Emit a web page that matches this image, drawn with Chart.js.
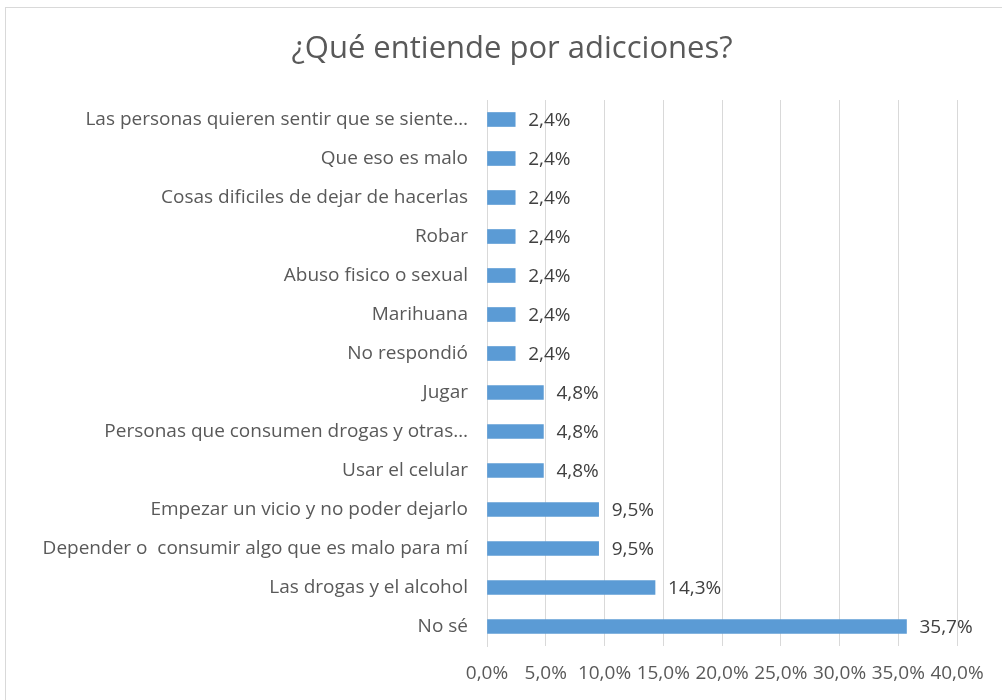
<!DOCTYPE html>
<html>
<head>
<meta charset="utf-8">
<script src="https://cdn.jsdelivr.net/npm/chart.js@4.4.0/dist/chart.umd.min.js"></script>
<style>
html,body{margin:0;padding:0;background:#fff;}
#wrap{width:1002px;height:700px;position:relative;}
</style>
</head>
<body>
<div id="wrap"><canvas id="c" width="1002" height="700"></canvas></div>
<script>
const titleText = "¿Qué entiende por adicciones?";
const categories = [
  "Las personas quieren sentir que se siente…",
  "Que eso es malo",
  "Cosas dificiles de dejar de hacerlas",
  "Robar",
  "Abuso fisico o sexual",
  "Marihuana",
  "No respondió",
  "Jugar",
  "Personas que consumen drogas y otras…",
  "Usar el celular",
  "Empezar un vicio y no poder dejarlo",
  "Depender o  consumir algo que es malo para mí",
  "Las drogas y el alcohol",
  "No sé"
];
const values = [2.4, 2.4, 2.4, 2.4, 2.4, 2.4, 2.4, 4.8, 4.8, 4.8, 9.5, 9.5, 14.3, 35.7];
const xTicks = [0, 5, 10, 15, 20, 25, 30, 35, 40];

const FONT = "'Open Sans', sans-serif";
const fmt = v => v.toFixed(1).replace('.', ',') + '%';

const framePlugin = {
  id: 'frame',
  beforeDraw(chart) {
    const ctx = chart.ctx;
    ctx.save();
    ctx.fillStyle = '#fff';
    ctx.fillRect(0, 0, chart.width, chart.height);
    ctx.strokeStyle = '#d9d9d9';
    ctx.lineWidth = 1;
    ctx.strokeRect(5.5, 7.5, 1200, 900);
    ctx.fillStyle = '#595959';
    ctx.font = "31px " + FONT;
    ctx.textAlign = 'center';
    ctx.textBaseline = 'middle';
    ctx.fillText(titleText, 512, 49);
    ctx.restore();
  }
};

const labelPlugin = {
  id: 'vlabels',
  afterDatasetsDraw(chart) {
    const ctx = chart.ctx;
    const meta = chart.getDatasetMeta(0);
    ctx.save();
    ctx.fillStyle = '#404040';
    ctx.font = "19px " + FONT;
    ctx.textAlign = 'left';
    ctx.textBaseline = 'middle';
    meta.data.forEach((bar, i) => {
      ctx.fillText(fmt(values[i]), bar.x + 13, bar.y + 1);
    });
    ctx.restore();
  }
};

new Chart(document.getElementById('c'), {
  type: 'bar',
  data: {
    labels: categories,
    datasets: [{
      data: values,
      backgroundColor: '#5b9bd5',
      borderColor: '#5b9bd5',
      borderWidth: 0,
      barThickness: 14
    }]
  },
  options: {
    indexAxis: 'y',
    responsive: false,
    animation: false,
    devicePixelRatio: 1,
    layout: { padding: { top: 100, right: 45, bottom: 12, left: 0 } },
    plugins: { legend: { display: false }, title: { display: false }, tooltip: { enabled: false } },
    scales: {
      x: {
        min: 0, max: 40,
        afterBuildTicks(scale) { scale.ticks = xTicks.map(v => ({ value: v })); },
        afterFit(scale) { scale.height = 42; },
        grid: { color: '#d9d9d9', drawTicks: false },
        border: { display: false },
        ticks: {
          color: '#595959',
          font: { family: FONT, size: 19 },
          padding: 16,
          maxRotation: 0,
          autoSkip: false,
          callback: v => fmt(v)
        }
      },
      y: {
        afterFit(scale) { scale.width = 487; },
        grid: { display: false, drawTicks: false },
        border: { display: true, color: '#d9d9d9' },
        ticks: {
          color: '#595959',
          font: { family: FONT, size: 19 },
          padding: 19,
          autoSkip: false
        }
      }
    }
  },
  plugins: [framePlugin, labelPlugin]
});
</script>
</body>
</html>
